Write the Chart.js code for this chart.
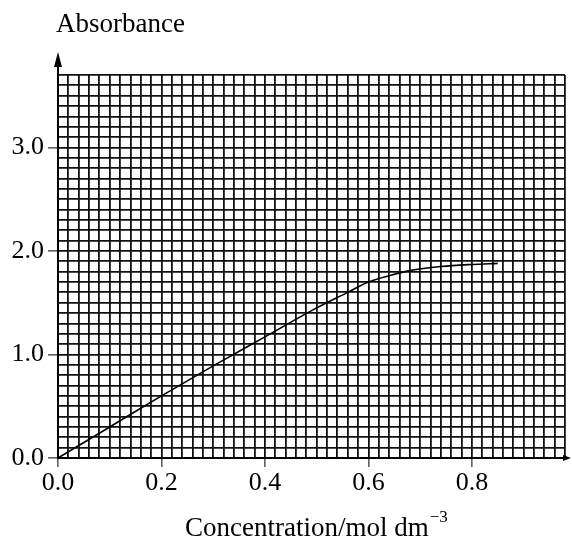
<!DOCTYPE html>
<html>
<head>
<meta charset="utf-8">
<script src="https://cdn.jsdelivr.net/npm/chart.js@4.4.1/dist/chart.umd.min.js"></script>
<style>
  html, body { margin: 0; padding: 0; background: #fff; }
  #wrap { position: relative; width: 572px; height: 541px; }
</style>
</head>
<body>
<div id="wrap"><canvas id="absChart" width="572" height="541"></canvas></div>
<script>
// readings taken off the plotted curve
const concentration = [0.0, 0.1, 0.2, 0.3, 0.4, 0.5, 0.56, 0.6, 0.64, 0.68, 0.74, 0.8, 0.85];
const absorbance    = [0.0, 0.30, 0.60, 0.89, 1.17, 1.45, 1.60, 1.70, 1.76, 1.81, 1.85, 1.87, 1.88];

const xTickLabels = ['0.0', '0.2', '0.4', '0.6', '0.8'];
const yTickLabels = ['0.0', '1.0', '2.0', '3.0'];

const yTitle = 'Absorbance';
const xTitle = 'Concentration/mol dm';
const xTitleSup = '\u22123';

const FONT = '"Liberation Serif", "DejaVu Serif", serif';

function findLabel(list, v) {
    let s = v.toFixed(1);
    if (Math.abs(v - parseFloat(s)) > 1e-6) return '';
    return list.indexOf(s) >= 0 ? s : '';
}

// arrows on the axes and the two titles
const extras = {
    id: 'extras',
    afterDraw(chart) {
        const c = chart.ctx, a = chart.chartArea;
        c.save();
        c.fillStyle = '#000';
        c.strokeStyle = '#000';
        c.lineWidth = 2;
        // y arrow
        c.beginPath();
        c.moveTo(a.left, a.top);
        c.lineTo(a.left, a.top - 14);
        c.stroke();
        c.beginPath();
        c.moveTo(a.left, a.top - 23);
        c.lineTo(a.left - 4, a.top - 8);
        c.lineTo(a.left + 4, a.top - 8);
        c.closePath();
        c.fill();
        // x arrow
        c.beginPath();
        c.moveTo(a.right + 6, a.bottom);
        c.lineTo(a.right - 2, a.bottom - 3);
        c.lineTo(a.right - 2, a.bottom + 3);
        c.closePath();
        c.fill();

        c.font = '27px ' + FONT;
        c.textBaseline = 'alphabetic';
        c.textAlign = 'left';
        c.fillText(yTitle, 56, 32);
        c.fillText(xTitle, 185, 536);
        let w = c.measureText(xTitle).width;
        c.font = '17px ' + FONT;
        c.fillText(xTitleSup, 185 + w + 1, 522);
        c.restore();
    }
};

new Chart(document.getElementById('absChart').getContext('2d'), {
    type: 'line',
    data: {
        datasets: [{
            data: concentration.map((x, i) => ({ x: x, y: absorbance[i] })),
            borderColor: '#000',
            borderWidth: 1.6,
            pointRadius: 0,
            fill: false,
            cubicInterpolationMode: 'monotone'
        }]
    },
    options: {
        responsive: false,
        animation: false,
        layout: { padding: { left: 0, top: 75, right: 7, bottom: 0 } },
        plugins: { legend: { display: false }, tooltip: { enabled: false } },
        scales: {
            x: {
                type: 'linear',
                min: 0, max: 0.98,
                afterFit(s) { s.height = 83; },
                border: { color: '#000', width: 2 },
                grid: {
                    color: '#111', lineWidth: 1.8, tickLength: 9,
                    tickColor: ctx => (ctx.tick && ctx.tick.label !== '') ? '#000' : 'rgba(0,0,0,0)',
                    tickWidth: 1
                },
                ticks: {
                    stepSize: 0.02, autoSkip: false, maxRotation: 0,
                    color: '#000', padding: 1,
                    font: { family: FONT, size: 26 },
                    callback: v => findLabel(xTickLabels, v)
                }
            },
            y: {
                type: 'linear',
                min: 0, max: 3.7,
                afterFit(s) { s.width = 58; },
                border: { color: '#000', width: 2 },
                grid: {
                    color: '#111', lineWidth: 1.8, tickLength: 10,
                    tickColor: ctx => (ctx.tick && ctx.tick.label !== '') ? '#000' : 'rgba(0,0,0,0)',
                    tickWidth: 1
                },
                ticks: {
                    stepSize: 0.1, autoSkip: false,
                    color: '#000', padding: 4,
                    font: { family: FONT, size: 26 },
                    callback: v => findLabel(yTickLabels, v)
                }
            }
        }
    },
    plugins: [extras]
});
</script>
</body>
</html>
